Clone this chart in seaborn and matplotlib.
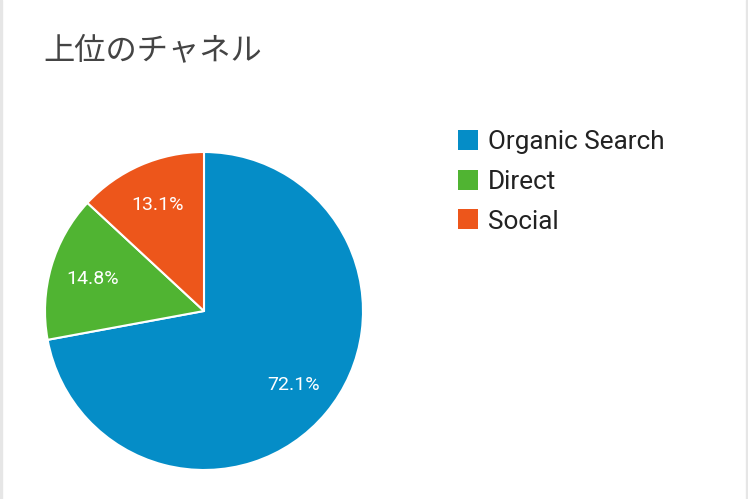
import matplotlib
matplotlib.use("Agg")
import matplotlib.pyplot as plt
import seaborn as sns
from matplotlib.patches import Rectangle, Patch

title = "上位のチャネル"
channels = ["Organic Search", "Direct", "Social"]
shares = [72.1, 14.8, 13.1]
colors = ["#058DC7", "#50B432", "#ED561B"]

sns.set_theme(style="white")
plt.rcParams['font.family'] = ['Roboto', 'Noto Sans CJK JP', 'DejaVu Sans']

W, H = 748, 499
fig = plt.figure(figsize=(W / 100, H / 100), dpi=100)
fig.patch.set_facecolor("white")

# thin grey card edges
fig.patches.append(Rectangle((0, 0), 2 / W, 1, transform=fig.transFigure,
                             color="#e6e6e6", zorder=0))
fig.patches.append(Rectangle((1 - 2 / W, 0), 2 / W, 1, transform=fig.transFigure,
                             color="#e6e6e6", zorder=0))

fig.text(43 / W, 1 - 50 / H, title, fontsize=22.5, color="#444444",
         family=['Noto Sans CJK JP', 'DejaVu Sans'], va="center", ha="left")

# pie: centre (204, 311), radius 159 px
r = 159
ax = fig.add_axes([(204 - r) / W, (H - 311 - r) / H, 2 * r / W, 2 * r / H])
wedges, _, autotexts = ax.pie(
    shares, colors=colors, startangle=90, counterclock=False,
    autopct="%.1f%%", pctdistance=0.73, radius=1,
    wedgeprops=dict(edgecolor="white", linewidth=1.5),
    textprops=dict(color="white", fontsize=14),
)
ax.set_xlim(-1, 1)
ax.set_ylim(-1, 1)
ax.set_aspect("equal")
ax.axis("off")

handles = [Patch(facecolor=c, edgecolor="none") for c in colors]
fig.legend(handles, channels, loc="upper left",
           bbox_to_anchor=(458 / W, 1 - 130 / H), frameon=False,
           fontsize=18.8, handlelength=0.77, handleheight=0.8,
           handletextpad=0.38, labelspacing=0.6, borderpad=0,
           borderaxespad=0, labelcolor="#222222")

fig.savefig("out.png", dpi=100, facecolor="white")
